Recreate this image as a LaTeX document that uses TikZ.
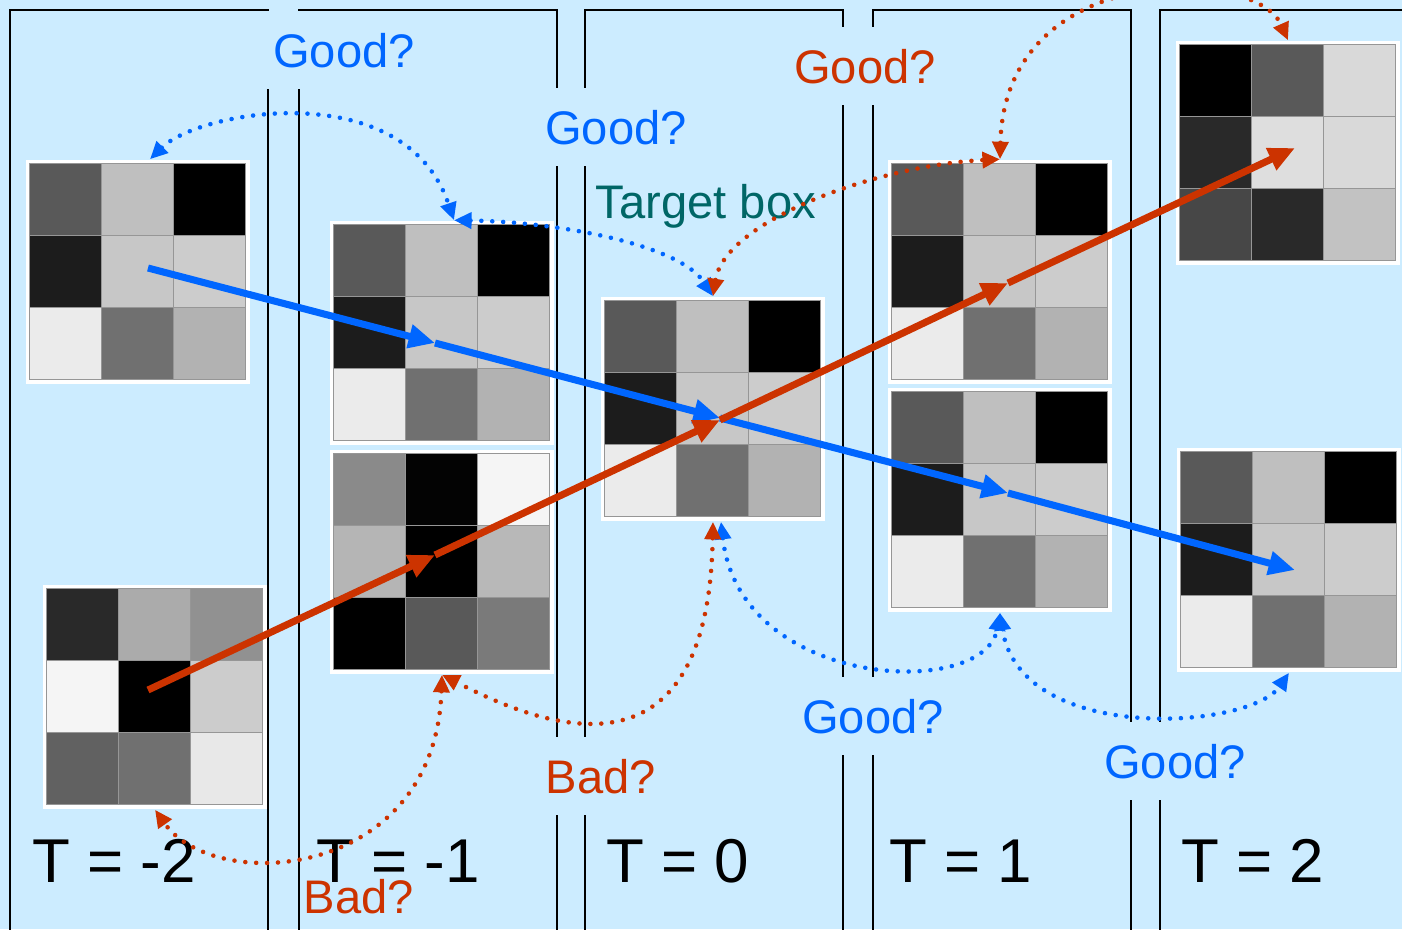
\documentclass[tikz,border=0pt]{standalone}
\usepackage{fontspec}
\setmainfont{Liberation Sans}
\usetikzlibrary{arrows.meta, calc}
\definecolor{skybg}{RGB}{204,236,255}
\definecolor{goodblue}{RGB}{0,102,255}
\definecolor{badred}{RGB}{204,51,0}
\definecolor{targetteal}{RGB}{0,102,102}
\definecolor{cellgrey}{RGB}{150,150,150}
\tikzset{
  patch/.style={rectangle, fill=white, inner sep=0pt, minimum size=2.24cm},
  cell/.style={draw=cellgrey, line width=0.4pt},
  column/.style={draw=black, line width=0.6pt},
  steplabel/.style={anchor=base, font=\fontsize{17.6}{20}\selectfont},
  asktext/.style={anchor=base, inner sep=0pt, font=\fontsize{13.4}{16}\selectfont},
  askbox/.style={asktext, fill=skybg, minimum width=2.42cm, minimum height=0.78cm},
  bluearrow/.style={-{Triangle[length=7.5pt,width=6.5pt]}, line width=2pt, color=goodblue},
  redarrow/.style={bluearrow, color=badred},
  bluedots/.style={{Triangle[length=5pt,width=4.5pt]}-{Triangle[length=5pt,width=4.5pt]},
    line width=1.3pt, line cap=round, dash pattern=on 0pt off 3.1pt, color=goodblue},
  reddots/.style={bluedots, color=badred}
}
\begin{document}
\begin{tikzpicture}[x=0.01cm, y=-0.01cm]
  \useasboundingbox (0,0) rectangle (1402,929);
  \clip (0,0) rectangle (1402,929);
  \fill[skybg] (0,0) rectangle (1402,929);

  % one column per time step
  \foreach \x in {10,299,585,873,1160}
    \draw[column] (\x,940) -- (\x,10) -- (\x+258,10) -- (\x+258,940);

  % 3x3 patches
  \node[patch] (m2top) at (138,272) {};
  \node[patch] (m2bot) at (155,697) {};
  \node[patch] (m1top) at (442,333) {};
  \node[patch] (m1bot) at (442,562) {};
  \node[patch] (zero)  at (713,409) {};
  \node[patch] (p1top) at (1000,272) {};
  \node[patch] (p1bot) at (1000,500) {};
  \node[patch] (p2top) at (1288,153) {};
  \node[patch] (p2bot) at (1289,560) {};
  \foreach \p/\shades in {m2top/{65,25,100,89,22,20,8,56,30},
                          m2bot/{84,33,43,4,100,20,62,56,9},
                          m1top/{65,25,100,89,22,20,8,56,30},
                          m1bot/{46,99,4,29,100,28,100,65,52},
                          zero/{65,25,100,89,22,20,8,56,30},
                          p1top/{65,25,100,89,22,20,8,56,30},
                          p1bot/{65,25,100,89,22,20,8,56,30},
                          p2top/{100,65,15,84,13,15,72,84,24},
                          p2bot/{65,25,100,89,22,20,8,56,30}}
    \foreach \v [count=\i from 0] in \shades {
      \pgfmathtruncatemacro\rr{\i/3}
      \pgfmathtruncatemacro\cc{\i-3*\rr}
      \filldraw[cell, fill=black!\v] ($(\p.north west)+(4+72*\cc,4+72*\rr)$) rectangle +(72,72);
    }

  % tracked paths
  \coordinate (b0) at (148,268);
  \coordinate (b1) at (435,343);
  \coordinate (b2) at (720,418);
  \coordinate (b3) at (1008,493);
  \coordinate (b4) at (1295,570);
  \coordinate (r0) at (148,690);
  \coordinate (r1) at (435,555);
  \coordinate (r2) at (720,420);
  \coordinate (r3) at (1008,283);
  \coordinate (r4) at (1295,148);
  \foreach \i/\j in {0/1,1/2,2/3,3/4} {
    \draw[bluearrow] (b\i) -- (b\j);
    \draw[redarrow] (r\i) -- (r\j);
  }

  % time labels
  \node[steplabel] (tm2) at (114,882) {T = -2};
  \node[steplabel] (tm1) at (398,882) {T = -1};
  \node[steplabel] (t0)  at (678,882) {T = 0};
  \node[steplabel] (t1)  at (961,882) {T = 1};
  \node[steplabel] (t2)  at (1253,882) {T = 2};
  \node[asktext, text=targetteal] (target) at (706,218) {Target box};
  \node[asktext, text=badred] (bad2) at (359,913) {Bad?};

  % blue checks
  \draw[bluedots] ($(m2top.north)+(12,0)$) .. controls (200,110) and (405,75) .. ($(m1top.north)+(12,0)$);
  \draw[bluedots] ($(m1top.north)+(12,0)$) .. controls (560,222) and (680,245) .. (zero.north);
  \draw[bluedots] ($(zero.south)+(8,0)$) .. controls (740,690) and (985,700) .. (p1bot.south);
  \draw[bluedots] (p1bot.south) .. controls (1020,745) and (1250,730) .. (p2bot.south);
  % red checks
  \draw[reddots] (zero.north) .. controls (725,220) and (880,165) .. (p1top.north);
  \draw[reddots] (p1top.north) .. controls (1005,-40) and (1255,-35) .. (p2top.north);
  \draw[reddots] (zero.south) .. controls (708,800) and (530,720) .. (m1bot.south);
  \draw[reddots] (m1bot.south) .. controls (435,880) and (215,895) .. (m2bot.south);

  % question labels
  \node[askbox, text=goodblue] (good1) at (344,67) {Good?};
  \node[askbox, text=goodblue] (good2) at (616,144) {Good?};
  \node[askbox, text=badred]   (good3) at (865,83) {Good?};
  \node[askbox, text=goodblue] (good4) at (873,733) {Good?};
  \node[askbox, text=goodblue] (good5) at (1175,778) {Good?};
  \node[askbox, text=badred]   (bad1)  at (601,793) {Bad?};
\end{tikzpicture}
\end{document}
